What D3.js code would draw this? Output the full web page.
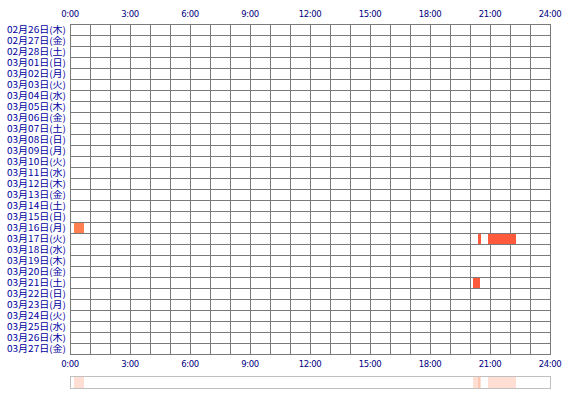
<!DOCTYPE html>
<html><head><meta charset="utf-8">
<script src="https://cdn.jsdelivr.net/npm/d3@7"></script>
<style>body{margin:0;background:#fff}svg{display:block}</style>
</head><body>
<svg id="c" width="570" height="400"></svg>
<script>
const days = ["02月26日(木)","02月27日(金)","02月28日(土)","03月01日(日)","03月02日(月)","03月03日(火)","03月04日(水)","03月05日(木)","03月06日(金)","03月07日(土)","03月08日(日)","03月09日(月)","03月10日(火)","03月11日(水)","03月12日(木)","03月13日(金)","03月14日(土)","03月15日(日)","03月16日(月)","03月17日(火)","03月18日(水)","03月19日(木)","03月20日(金)","03月21日(土)","03月22日(日)","03月23日(月)","03月24日(火)","03月25日(水)","03月26日(木)","03月27日(金)"];
const hourTicks = [0,3,6,9,12,15,18,21,24];
const tickLabels = ["0:00","3:00","6:00","9:00","12:00","15:00","18:00","21:00","24:00"];
const segDay   = ["03月16日(月)","03月17日(火)","03月17日(火)","03月21日(土)"];
const segStart = [0.2, 20.4, 20.9, 20.15];
const segEnd   = [0.7, 20.55, 22.3, 20.5];
const segLevel = [1, 2, 2, 2];

const svg = d3.select("#c");
const L=70, R=550, T=24, rowH=11;
const x = d3.scaleLinear().domain([0,24]).range([L,R]);
const y = d3.scaleBand().domain(days).range([T, T+rowH*days.length]);
const B = T+rowH*days.length;
const color = d3.scaleOrdinal().domain([1,2]).range(["#ff7f50","#ff5a3c"]);

// grid
const g = svg.append("g");
g.selectAll("line.h").data(d3.range(days.length+1)).join("line")
  .attr("x1",L).attr("x2",R+1).attr("y1",i=>T+i*rowH+0.5).attr("y2",i=>T+i*rowH+0.5)
  .attr("stroke","#7a7a7a").attr("stroke-width",1);
g.selectAll("line.v").data(d3.range(25)).join("line")
  .attr("y1",T).attr("y2",B+1).attr("x1",h=>x(h)+0.5).attr("x2",h=>x(h)+0.5)
  .attr("stroke","#7a7a7a").attr("stroke-width",1);

// bars
svg.append("g").selectAll("rect").data(segDay.map((d,i)=>({d,s:segStart[i],e:segEnd[i],l:segLevel[i]}))).join("rect")
  .attr("x",d=>x(d.s)).attr("width",d=>x(d.e)-x(d.s))
  .attr("y",d=>y(d.d)+1).attr("height",rowH-1)
  .attr("fill",d=>color(d.l));

// day labels
svg.append("g").selectAll("text").data(days).join("text")
  .attr("x",66).attr("y",d=>y(d)+rowH/2+1)
  .attr("text-anchor","end").attr("dominant-baseline","middle")
  .attr("font-family","Noto Sans CJK JP").attr("font-size",9)
  .attr("textLength",59).attr("lengthAdjust","spacingAndGlyphs")
  .attr("fill","#0000a0").text(d=>d);

// axes labels
[14, 364].forEach(yy=>{
  svg.append("g").selectAll("text").data(hourTicks).join("text")
    .attr("x",h=>x(h)).attr("y",yy).attr("text-anchor","middle").attr("dominant-baseline","middle")
    .attr("font-family","DejaVu Sans").attr("font-size",8.5).attr("letter-spacing",-0.4)
    .attr("fill","#000080").text((h,i)=>tickLabels[i]);
});

// overview strip
svg.append("g").selectAll("rect").data(segStart.map((s,i)=>({s,e:segEnd[i]}))).join("rect")
  .attr("x",d=>x(d.s)).attr("width",d=>x(d.e)-x(d.s)).attr("y",377).attr("height",11)
  .attr("fill","#ff7f50").attr("fill-opacity",0.25);
svg.append("rect").attr("x",L+0.5).attr("y",376.5).attr("width",R-L).attr("height",12)
  .attr("fill","none").attr("stroke","#c0c0c0");
</script>
</body></html>
